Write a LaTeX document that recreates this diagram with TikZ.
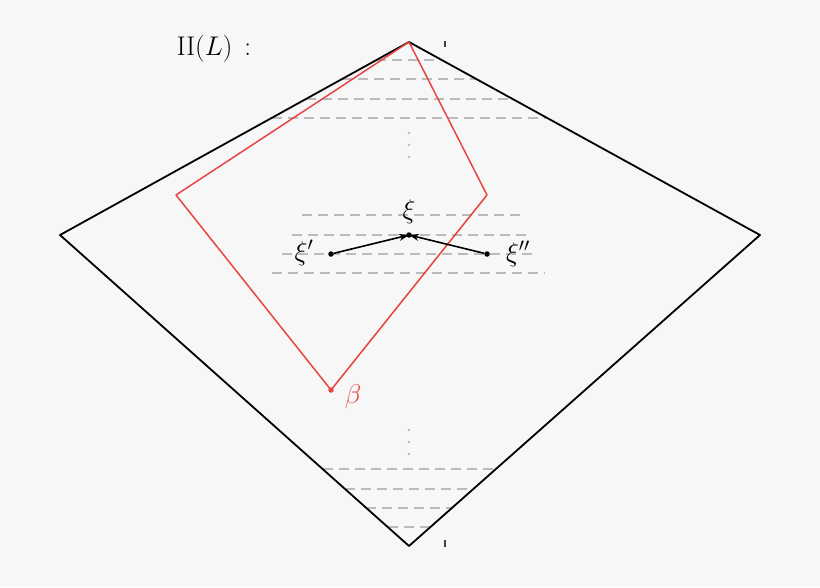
\RequirePackage{fix-cm}
\documentclass[tikz,border=0pt]{standalone}
\usetikzlibrary{arrows.meta}
\definecolor{bg}{HTML}{F7F7F7}
\definecolor{redl}{HTML}{E84545}
\definecolor{dashg}{HTML}{BBBBBB}
\begin{document}
\begin{tikzpicture}[x=1pt,y=-1pt,
  edge/.style={line width=1.8pt,black,line join=round},
  redge/.style={line width=1.5pt,redl,line join=round},
  level/.style={line width=1.4pt,dashg,dash pattern=on 10pt off 6pt},
  pt/.style={circle,fill=black,inner sep=0pt,minimum size=5.5pt},
  lab/.style={font=\fontsize{27}{32}\selectfont},
  conn/.style={line width=1.6pt,-{Stealth[length=10pt,width=7pt]}}]
\fill[bg] (0,0) rectangle (820,587);
\useasboundingbox (0,0) rectangle (820,587);
% diamond
\coordinate (T) at (409,42);
\coordinate (L) at (60,235);
\coordinate (R) at (760,235);
\coordinate (B) at (409,546);
% level lines top
\foreach \y in {60,79,99,118}{
  \draw[level] ({409-1.808*(\y-42)},\y) -- ({409+1.819*(\y-42)},\y);
}
% level lines bottom
\foreach \y in {469,489,508,527}{
  \draw[level] ({409-1.122*(546-\y)},\y) -- ({409+1.129*(546-\y)},\y);
}
% middle level lines
\draw[level] (302,215) -- (520,215);
\draw[level] (292,235) -- (528,235);
\draw[level] (282,254) -- (534,254);
\draw[level] (272,273) -- (545,273);
% vertical dots
\foreach \y in {133,145,157,430,442,454}{
  \fill[dashg] (409,\y) circle (1.4pt);
}
\draw[edge] (T) -- (R) -- (B) -- (L) -- cycle;
% ticks
\draw[line width=1.3pt,black!75] (445,41) -- (445,47);
\draw[line width=1.3pt,black!75] (445,540) -- (445,547);
% red polygon
\coordinate (r1) at (487,195);
\coordinate (r2) at (331,390);
\coordinate (r3) at (176,195);
\draw[redge] (T) -- (r1) -- (r2) -- (r3) -- cycle;
\node[circle,fill=redl,inner sep=0pt,minimum size=5.5pt] (beta) at (r2) {};
\node[lab,text=redl] (betal) at (353,397) {$\beta$};
% xi points
\node[pt] (xi) at (409,235) {};
\node[pt] (xi1) at (331,254) {};
\node[pt] (xi2) at (487,254) {};
\draw[conn] (xi1) -- (xi.center);
\draw[conn] (xi2) -- (xi.center);
\node[lab] (xil) at (409,212) {$\xi$};
\node[lab] (xi1l) at (304,253) {$\xi'$};
\node[lab] (xi2l) at (518,254) {$\xi''$};
\node[lab] (title) at (214,49) {$\mathrm{II}(L)\,:$};
\end{tikzpicture}
\end{document}
